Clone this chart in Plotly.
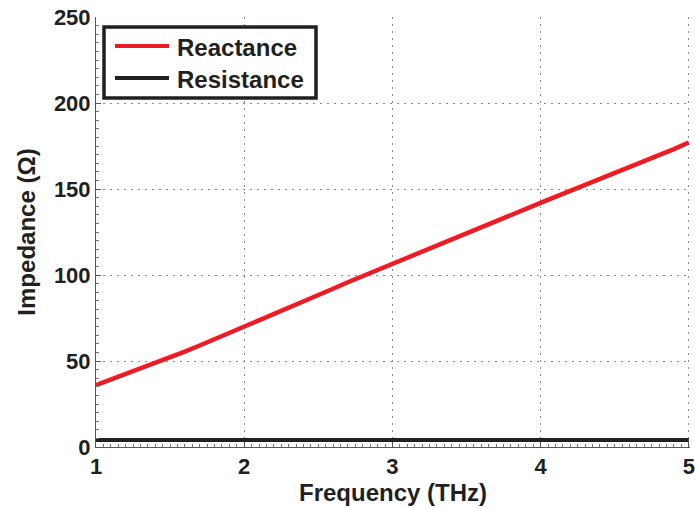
import plotly.graph_objects as go

# Frequency sweep (THz) and the two impedance components (Ohm)
frequency_thz = [1.0, 1.1, 1.2, 1.3, 1.4, 1.5, 1.6, 1.7, 1.8, 1.9,
                 2.0, 2.1, 2.2, 2.3, 2.4, 2.5, 2.6, 2.7, 2.8, 2.9,
                 3.0, 3.1, 3.2, 3.3, 3.4, 3.5, 3.6, 3.7, 3.8, 3.9,
                 4.0, 4.1, 4.2, 4.3, 4.4, 4.5, 4.6, 4.7, 4.8, 4.9, 5.0]
reactance = [36.0, 39.2, 42.3, 45.6, 48.8, 52.1, 55.5, 59.0, 62.6, 66.3,
             70.0, 73.6, 77.3, 81.0, 84.7, 88.4, 92.0, 95.8, 99.4, 103.0,
             106.6, 110.1, 113.6, 117.2, 120.7, 124.3, 127.8, 131.4, 134.9, 138.4,
             141.9, 145.4, 148.8, 152.3, 155.8, 159.2, 162.7, 166.2, 169.6, 173.2, 177.0]
resistance = [4.0] * len(frequency_thz)

series_names = ["Reactance", "Resistance"]
series_colors = ["#ED1C24", "#231F20"]

FONT = "Liberation Sans, Arial, sans-serif"
INK = "#231F20"

fig = go.Figure()
for name, values, color, width in zip(series_names, [reactance, resistance],
                                       series_colors, [4.5, 4]):
    fig.add_trace(go.Scatter(x=frequency_thz, y=values, mode="lines", name=name,
                             line=dict(color=color, width=width), showlegend=False))

axis_common = dict(
    showline=True, linecolor="#555555", linewidth=1, mirror=False,
    showgrid=True, gridcolor="#8a8a8a", gridwidth=1, griddash="2px,5px",
    zeroline=False, ticks="inside", ticklen=5, tickcolor="#555555",
    ticklabeloverflow="allow", automargin=False,
    tickfont=dict(family=FONT, size=22, color=INK, weight="bold"),
)

# a hair of headroom past 5 THz keeps the last dotted grid line from being clipped
fig.update_xaxes(range=[1, 5.008], tickvals=[1, 2, 3, 4, 5], **axis_common,
                 minor=dict(dtick=0.05, ticks="inside", ticklen=3,
                            tickcolor="#777777", showgrid=False),
                 title=dict(text="Frequency (THz)", standoff=4,
                            font=dict(family=FONT, size=24, color=INK, weight="bold")))
fig.update_yaxes(range=[0, 250], tickvals=[0, 50, 100, 150, 200, 250], **axis_common,
                 minor=dict(dtick=5, ticks="inside", ticklen=3,
                            tickcolor="#777777", showgrid=False),
                 title=dict(text="Impedance (\u03a9)", standoff=11,
                            font=dict(family=FONT, size=24, color=INK, weight="bold")))

# Legend box with line samples and labels (paper coordinates)
plot_l, plot_r, plot_t, plot_b = 96, 690, 17, 447
W, H = 695, 508


def px_x(p):
    return (p - plot_l) / (plot_r - plot_l)


def px_y(p):
    return (plot_b - p) / (plot_b - plot_t)


fig.add_shape(type="rect", xref="paper", yref="paper",
              x0=px_x(104), x1=px_x(316), y0=px_y(27), y1=px_y(98),
              line=dict(color=INK, width=3.5), fillcolor="white", layer="above")
for i, (name, color) in enumerate(zip(series_names, series_colors)):
    yc = 46 + i * 32
    fig.add_shape(type="line", xref="paper", yref="paper",
                  x0=px_x(115), x1=px_x(169), y0=px_y(yc), y1=px_y(yc),
                  line=dict(color=color, width=4), layer="above")
    fig.add_annotation(xref="paper", yref="paper", x=px_x(175), y=px_y(yc + 1),
                       xanchor="left", yanchor="middle", showarrow=False,
                       text=name, font=dict(family=FONT, size=24, color=INK, weight="bold"))

fig.update_layout(
    width=W, height=H,
    margin=dict(l=plot_l, r=W - plot_r, t=plot_t, b=H - plot_b),
    paper_bgcolor="white", plot_bgcolor="white",
    showlegend=False,
)

fig.write_html("out.html")
